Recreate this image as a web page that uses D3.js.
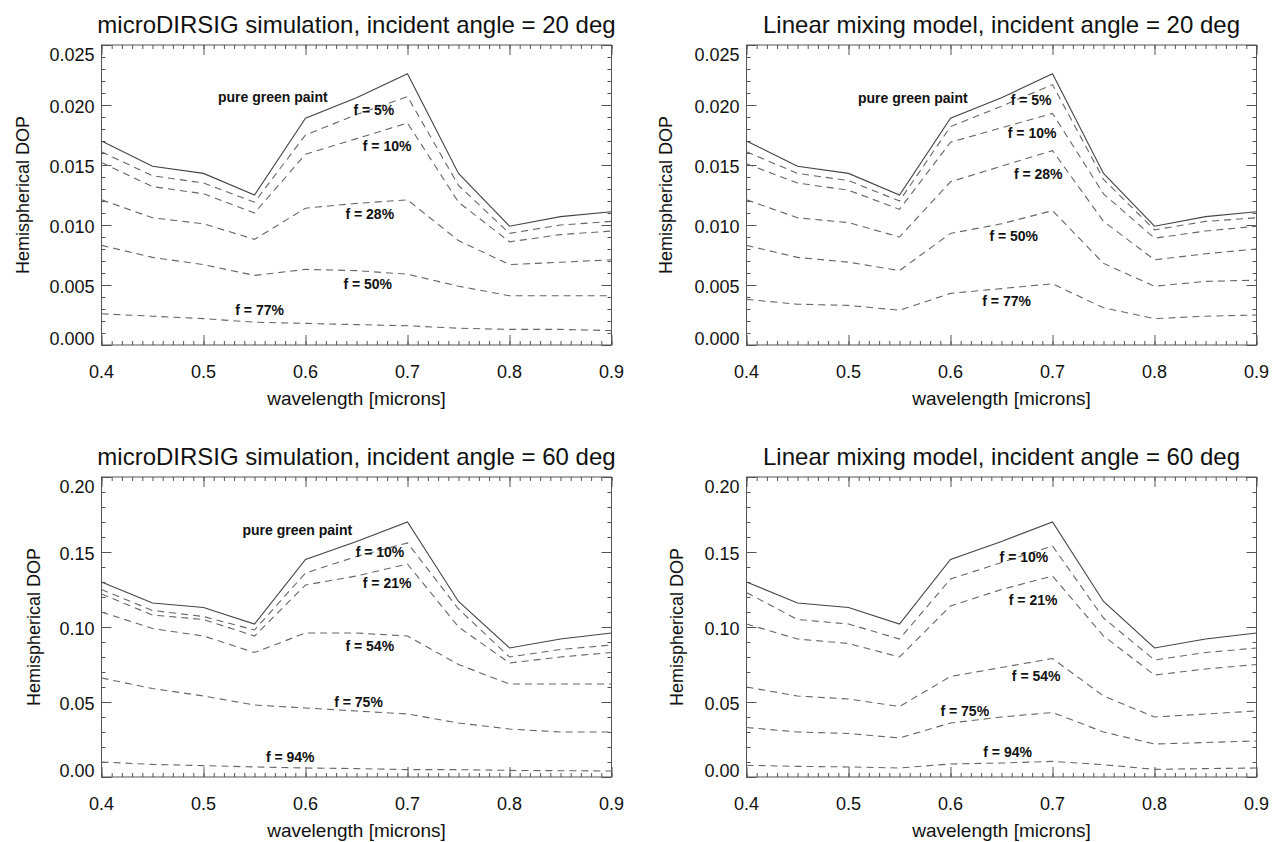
<!DOCTYPE html>
<html>
<head>
<meta charset="utf-8">
<script src="https://cdn.jsdelivr.net/npm/d3@7"></script>
<style>
  body { margin: 0; background: #fff; }
  text { font-family: 'Liberation Sans', Arial, Helvetica, sans-serif; fill: #111; }
</style>
</head>
<body>
<svg id="chart" width="1273" height="842"></svg>
<script>
// wavelength samples [microns]
const wavelength = [0.40, 0.45, 0.50, 0.55, 0.60, 0.65, 0.70, 0.75, 0.80, 0.85, 0.90]
const xTicks = [0.4, 0.5, 0.6, 0.7, 0.8, 0.9]
const yTicks20 = [0.000, 0.005, 0.010, 0.015, 0.020, 0.025]
const yTicks60 = [0.00, 0.05, 0.10, 0.15, 0.20]

// incident angle = 20 deg
const pure20 = [0.0170, 0.0149, 0.0143, 0.0125, 0.0189, 0.0206, 0.0226, 0.0143, 0.0099, 0.0107, 0.0111]
const sim20f5 = [0.0161, 0.0141, 0.0135, 0.0119, 0.0175, 0.0192, 0.0207, 0.0133, 0.0093, 0.0100, 0.0103]
const sim20f10 = [0.0152, 0.0132, 0.0126, 0.0110, 0.0159, 0.0172, 0.0185, 0.0119, 0.0086, 0.0092, 0.0095]
const sim20f28 = [0.0121, 0.0106, 0.0101, 0.0088, 0.0114, 0.0118, 0.0121, 0.0087, 0.0067, 0.0069, 0.0071]
const sim20f50 = [0.0083, 0.0073, 0.0067, 0.0058, 0.0063, 0.0062, 0.0059, 0.0049, 0.0041, 0.0041, 0.0041]
const sim20f77 = [0.0026, 0.0024, 0.0022, 0.0019, 0.0018, 0.0017, 0.0016, 0.0014, 0.0013, 0.0013, 0.0012]

const lin20f5 = [0.0161, 0.0143, 0.0137, 0.0120, 0.0182, 0.0199, 0.0217, 0.0138, 0.0096, 0.0103, 0.0106]
const lin20f10 = [0.0151, 0.0135, 0.0129, 0.0113, 0.0169, 0.0181, 0.0193, 0.0126, 0.0089, 0.0095, 0.0099]
const lin20f28 = [0.0121, 0.0106, 0.0102, 0.0090, 0.0136, 0.0149, 0.0162, 0.0103, 0.0071, 0.0076, 0.0080]
const lin20f50 = [0.0083, 0.0073, 0.0069, 0.0062, 0.0093, 0.0101, 0.0112, 0.0068, 0.0049, 0.0053, 0.0054]
const lin20f77 = [0.0038, 0.0034, 0.0033, 0.0029, 0.0043, 0.0047, 0.0051, 0.0031, 0.0022, 0.0024, 0.0025]

// incident angle = 60 deg
const pure60 = [0.130, 0.116, 0.113, 0.102, 0.145, 0.157, 0.170, 0.117, 0.086, 0.092, 0.096]
const sim60f10 = [0.125, 0.111, 0.107, 0.098, 0.136, 0.147, 0.156, 0.112, 0.080, 0.085, 0.088]
const sim60f21 = [0.122, 0.108, 0.105, 0.094, 0.128, 0.134, 0.142, 0.100, 0.076, 0.080, 0.083]
const sim60f54 = [0.110, 0.099, 0.094, 0.083, 0.096, 0.096, 0.094, 0.075, 0.062, 0.062, 0.062]
const sim60f75 = [0.066, 0.059, 0.054, 0.048, 0.046, 0.044, 0.042, 0.036, 0.032, 0.030, 0.030]
const sim60f94 = [0.0100, 0.0084, 0.0076, 0.0067, 0.0060, 0.0056, 0.0049, 0.0049, 0.0044, 0.0042, 0.0040]

const lin60f10 = [0.123, 0.105, 0.102, 0.092, 0.132, 0.143, 0.154, 0.106, 0.078, 0.083, 0.086]
const lin60f21 = [0.102, 0.092, 0.089, 0.080, 0.114, 0.125, 0.134, 0.094, 0.068, 0.072, 0.075]
const lin60f54 = [0.060, 0.054, 0.052, 0.047, 0.067, 0.073, 0.079, 0.054, 0.040, 0.042, 0.044]
const lin60f75 = [0.033, 0.030, 0.029, 0.026, 0.036, 0.040, 0.043, 0.030, 0.022, 0.023, 0.024]
const lin60f94 = [0.0078, 0.0071, 0.0067, 0.0060, 0.0087, 0.0093, 0.0104, 0.0082, 0.0051, 0.0056, 0.0060]

const W = 510
const H = 300
const svg = d3.select('#chart')

const drawPanel = ({ left, top, title, yMax, yTicks, yMinorStep, yFormat, yTitleGap, curves, notes }) => {
  const x = d3.scaleLinear().domain([0.4, 0.9]).range([left, left + W])
  const y = d3.scaleLinear().domain([0, yMax]).range([top + H, top])
  const g = svg.append('g')

  // ticks on all four sides, pointing inward (IDL style)
  const xMinor = d3.range(40, 91).map(d => d / 100)
  const yMinor = d3.range(0, Math.round(yMax / yMinorStep) + 1).map(d => d * yMinorStep)
  const tickAxis = (axis, transform) => g.append('g')
    .attr('transform', transform)
    .call(axis)
    .call(a => a.selectAll('.domain, text').remove())
    .call(a => a.selectAll('line').attr('stroke', '#555'))

  tickAxis(d3.axisBottom(x).tickValues(xMinor).tickSize(-4), `translate(0,${top + H})`)
  tickAxis(d3.axisBottom(x).tickValues(xTicks).tickSize(-10), `translate(0,${top + H})`)
  tickAxis(d3.axisTop(x).tickValues(xMinor).tickSize(-4), `translate(0,${top})`)
  tickAxis(d3.axisTop(x).tickValues(xTicks).tickSize(-10), `translate(0,${top})`)
  tickAxis(d3.axisLeft(y).tickValues(yMinor).tickSize(-4), `translate(${left},0)`)
  tickAxis(d3.axisLeft(y).tickValues(yTicks).tickSize(-10), `translate(${left},0)`)
  tickAxis(d3.axisRight(y).tickValues(yMinor).tickSize(-4), `translate(${left + W},0)`)
  tickAxis(d3.axisRight(y).tickValues(yTicks).tickSize(-10), `translate(${left + W},0)`)

  g.append('rect')
    .attr('x', left).attr('y', top)
    .attr('width', W).attr('height', H)
    .attr('fill', 'none')
    .attr('stroke', '#555')

  // tick labels
  g.selectAll('.xl')
    .data(xTicks)
    .join('text')
    .attr('x', d => x(d))
    .attr('y', top + H + 27)
    .attr('dy', '0.35em')
    .attr('text-anchor', 'middle')
    .style('font-size', '18px')
    .text(d3.format('.1f'))

  g.selectAll('.yl')
    .data(yTicks)
    .join('text')
    .attr('x', left - 7)
    .attr('y', d => Math.min(Math.max(y(d) + 2, top + 10), top + H - 6))
    .attr('dy', '0.35em')
    .attr('text-anchor', 'end')
    .style('font-size', '18px')
    .text(d3.format(yFormat))

  // titles
  g.append('text')
    .attr('x', left + W / 2)
    .attr('y', top - 20)
    .attr('dy', '0.35em')
    .attr('text-anchor', 'middle')
    .style('font-size', '24px')
    .text(title)

  g.append('text')
    .attr('x', left + W / 2)
    .attr('y', top + H + 53)
    .attr('dy', '0.35em')
    .attr('text-anchor', 'middle')
    .style('font-size', '19px')
    .text('wavelength [microns]')

  g.append('text')
    .attr('transform', `translate(${left - yTitleGap},${top + H / 2}) rotate(-90)`)
    .attr('dy', '0.35em')
    .attr('text-anchor', 'middle')
    .style('font-size', '18px')
    .text('Hemispherical DOP')

  // curves
  const line = d3.line()
    .x((d, i) => x(wavelength[i]))
    .y(d => y(d))

  g.selectAll('.curve')
    .data(curves)
    .join('path')
    .attr('d', d => line(d.values))
    .attr('fill', 'none')
    .attr('stroke', d => (d.dashed ? '#666' : '#444'))
    .attr('stroke-width', 1.1)
    .attr('stroke-dasharray', d => (d.dashed ? '7,5' : null))

  // curve annotations
  g.selectAll('.note')
    .data(notes)
    .join('text')
    .attr('x', d => x(d.at[0]))
    .attr('y', d => y(d.at[1]))
    .attr('dy', '0.35em')
    .attr('text-anchor', 'middle')
    .style('font-size', '14px')
    .style('font-weight', 'bold')
    .text(d => d.text)
}

drawPanel({
  left: 101.5,
  top: 45,
  title: 'microDIRSIG simulation, incident angle = 20 deg',
  yMax: 0.025,
  yTicks: yTicks20,
  yMinorStep: 0.001,
  yFormat: '.3f',
  yTitleGap: 79,
  curves: [
    { values: pure20, dashed: false },
    { values: sim20f5, dashed: true },
    { values: sim20f10, dashed: true },
    { values: sim20f28, dashed: true },
    { values: sim20f50, dashed: true },
    { values: sim20f77, dashed: true },
  ],
  notes: [
    { text: 'pure green paint', at: [0.568, 0.0207] },
    { text: 'f = 5%', at: [0.667, 0.0196] },
    { text: 'f = 10%', at: [0.680, 0.0166] },
    { text: 'f = 28%', at: [0.663, 0.0109] },
    { text: 'f = 50%', at: [0.661, 0.0051] },
    { text: 'f = 77%', at: [0.555, 0.0029] },
  ],
})

drawPanel({
  left: 746.5,
  top: 45,
  title: 'Linear mixing model, incident angle = 20 deg',
  yMax: 0.025,
  yTicks: yTicks20,
  yMinorStep: 0.001,
  yFormat: '.3f',
  yTitleGap: 81,
  curves: [
    { values: pure20, dashed: false },
    { values: lin20f5, dashed: true },
    { values: lin20f10, dashed: true },
    { values: lin20f28, dashed: true },
    { values: lin20f50, dashed: true },
    { values: lin20f77, dashed: true },
  ],
  notes: [
    { text: 'pure green paint', at: [0.563, 0.0206] },
    { text: 'f = 5%', at: [0.679, 0.0204] },
    { text: 'f = 10%', at: [0.680, 0.0177] },
    { text: 'f = 28%', at: [0.686, 0.01425] },
    { text: 'f = 50%', at: [0.662, 0.0091] },
    { text: 'f = 77%', at: [0.655, 0.0037] },
  ],
})

drawPanel({
  left: 101.5,
  top: 477,
  title: 'microDIRSIG simulation, incident angle = 60 deg',
  yMax: 0.20,
  yTicks: yTicks60,
  yMinorStep: 0.01,
  yFormat: '.2f',
  yTitleGap: 68,
  curves: [
    { values: pure60, dashed: false },
    { values: sim60f10, dashed: true },
    { values: sim60f21, dashed: true },
    { values: sim60f54, dashed: true },
    { values: sim60f75, dashed: true },
    { values: sim60f94, dashed: true },
  ],
  notes: [
    { text: 'pure green paint', at: [0.592, 0.1649] },
    { text: 'f = 10%', at: [0.673, 0.1498] },
    { text: 'f = 21%', at: [0.680, 0.1293] },
    { text: 'f = 54%', at: [0.663, 0.0871] },
    { text: 'f = 75%', at: [0.652, 0.0498] },
    { text: 'f = 94%', at: [0.585, 0.0133] },
  ],
})

drawPanel({
  left: 746.5,
  top: 477,
  title: 'Linear mixing model, incident angle = 60 deg',
  yMax: 0.20,
  yTicks: yTicks60,
  yMinorStep: 0.01,
  yFormat: '.2f',
  yTitleGap: 70,
  curves: [
    { values: pure60, dashed: false },
    { values: lin60f10, dashed: true },
    { values: lin60f21, dashed: true },
    { values: lin60f54, dashed: true },
    { values: lin60f75, dashed: true },
    { values: lin60f94, dashed: true },
  ],
  notes: [
    { text: 'f = 10%', at: [0.672, 0.1467] },
    { text: 'f = 21%', at: [0.681, 0.1178] },
    { text: 'f = 54%', at: [0.684, 0.0671] },
    { text: 'f = 75%', at: [0.614, 0.0442] },
    { text: 'f = 94%', at: [0.656, 0.0164] },
  ],
})
</script>
</body>
</html>
